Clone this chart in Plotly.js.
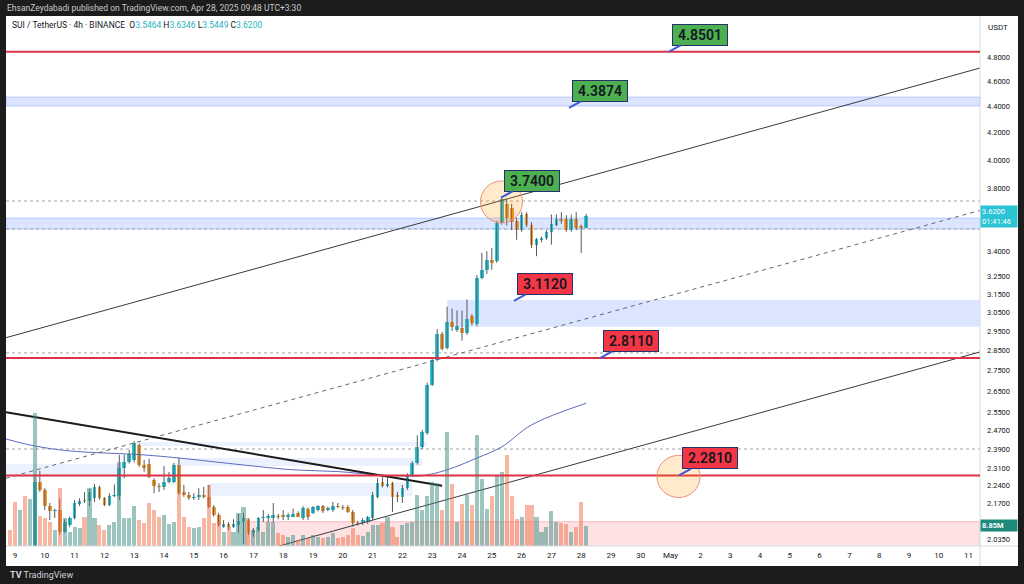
<!DOCTYPE html>
<html><head><meta charset="utf-8">
<script src="https://cdn.plot.ly/plotly-3.0.1.min.js"></script>
<style>html,body{margin:0;padding:0;background:#fff;}#chart{width:1024px;height:584px;}</style>
</head><body><div id="chart"></div>
<script>
// ---- data (SUI/USDT 4h, first candle 2025-04-08 20:00, 4h step) ----
const firstCandle = Date.UTC(2025, 3, 8, 20, 0);
const stepHours = 4;
const open = [1.95,1.90,1.83,1.88,1.85,1.90,2.255,2.223,2.16,2.14,
2.145,2.063,2.09,2.115,2.17,2.185,2.18,2.19,2.235,2.19,
2.165,2.20,2.20,2.313,2.335,2.345,2.41,2.324,2.33,2.263,
2.24,2.233,2.255,2.255,2.324,2.215,2.205,2.19,2.195,2.202,
2.195,2.157,2.126,2.082,2.093,2.082,2.09,2.10,2.107,2.06,
2.07,2.114,2.114,2.116,2.122,2.125,2.118,2.12,2.134,2.114,
2.148,2.134,2.145,2.16,2.145,2.145,2.16,2.158,2.157,2.138,
2.096,2.096,2.10,2.114,2.195,2.255,2.24,2.25,2.205,2.195,
2.23,2.283,2.333,2.398,2.46,2.68,2.80,2.935,2.86,2.997,
2.955,2.965,2.94,3.03,2.985,3.24,3.29,3.35,3.34,3.575,
3.70,3.67,3.59,3.53,3.63,3.56,3.44,3.47,3.48,3.52,
3.565,3.60,3.60,3.53,3.60,3.555,3.5464];
const high = [1.98,1.93,1.90,1.90,1.92,2.275,2.30,2.23,2.172,2.15,
2.19,2.11,2.12,2.184,2.19,2.215,2.227,2.247,2.24,2.195,
2.21,2.245,2.366,2.366,2.387,2.425,2.415,2.345,2.35,2.27,
2.25,2.32,2.295,2.333,2.355,2.243,2.215,2.21,2.23,2.235,
2.243,2.164,2.134,2.107,2.10,2.11,2.13,2.134,2.114,2.078,
2.118,2.145,2.13,2.172,2.13,2.145,2.134,2.15,2.14,2.16,
2.155,2.16,2.164,2.164,2.158,2.176,2.172,2.164,2.164,2.145,
2.104,2.114,2.122,2.215,2.27,2.275,2.275,2.255,2.215,2.243,
2.29,2.34,2.45,2.474,2.69,2.81,2.96,2.945,3.08,3.07,
3.06,3.06,3.12,3.04,3.259,3.39,3.40,3.42,3.59,3.74,
3.735,3.70,3.61,3.645,3.645,3.58,3.48,3.49,3.53,3.63,
3.63,3.645,3.625,3.63,3.645,3.565,3.6346];
const low = [1.88,1.80,1.78,1.82,1.83,1.88,2.215,2.145,2.107,2.115,
2.052,2.06,2.08,2.11,2.16,2.172,2.16,2.176,2.184,2.16,
2.16,2.195,2.184,2.27,2.33,2.335,2.316,2.296,2.27,2.21,
2.215,2.223,2.25,2.25,2.203,2.196,2.184,2.184,2.184,2.19,
2.152,2.12,2.082,2.078,2.07,2.078,2.06,2.02,2.052,2.045,
2.063,2.10,2.10,2.10,2.11,2.107,2.107,2.118,2.118,2.107,
2.107,2.13,2.14,2.134,2.14,2.138,2.152,2.145,2.134,2.082,
2.086,2.089,2.093,2.107,2.19,2.233,2.233,2.138,2.176,2.172,
2.223,2.275,2.325,2.39,2.452,2.675,2.795,2.85,2.855,2.95,
2.945,2.90,2.93,2.98,2.975,3.235,3.265,3.29,3.33,3.565,
3.56,3.53,3.47,3.52,3.55,3.42,3.37,3.455,3.47,3.44,
3.555,3.57,3.52,3.52,3.53,3.39,3.5449];
const close = [1.90,1.83,1.88,1.85,1.90,2.255,2.223,2.16,2.14,2.145,
2.063,2.10,2.115,2.172,2.18,2.178,2.215,2.235,2.19,2.165,
2.20,2.205,2.313,2.338,2.37,2.415,2.324,2.31,2.276,2.24,
2.233,2.255,2.27,2.324,2.211,2.203,2.19,2.196,2.202,2.195,
2.157,2.126,2.089,2.093,2.082,2.093,2.104,2.114,2.06,2.07,
2.114,2.118,2.122,2.125,2.118,2.118,2.126,2.128,2.12,2.152,
2.118,2.156,2.16,2.14,2.152,2.16,2.156,2.152,2.138,2.096,
2.093,2.107,2.118,2.203,2.25,2.24,2.247,2.195,2.195,2.23,
2.283,2.333,2.398,2.465,2.68,2.802,2.935,2.855,2.997,2.97,
2.975,2.94,3.016,2.99,3.243,3.29,3.35,3.33,3.575,3.73,
3.61,3.58,3.53,3.625,3.56,3.44,3.475,3.48,3.52,3.57,
3.60,3.585,3.53,3.60,3.545,3.545,3.62];
const volumeM = [7.0,19.4,15.8,22.0,20.7,58.5,13.2,12.3,10.6,7.0,
25.5,12.3,6.2,8.4,7.9,12.8,25.5,12.3,9.2,7.0,
9.2,10.6,37.0,12.3,12.3,17.6,11.4,10.1,18.9,15.8,
12.8,13.6,9.7,10.6,23.3,12.8,8.4,7.9,8.4,12.3,
26.8,10.1,10.6,6.2,8.4,6.2,14.5,17.2,12.3,7.0,
8.4,6.2,10.6,10.6,5.7,4.8,4.0,4.8,2.6,4.8,
3.5,4.8,4.0,3.5,4.0,5.7,3.5,4.0,4.8,7.9,
4.8,4.4,6.2,9.2,9.2,10.1,12.8,8.4,4.0,9.2,
10.1,10.6,22.4,15.8,22.0,28.2,27.7,15.8,50.2,27.3,
10.6,18.5,22.4,18.0,48.8,29.5,16.3,22.0,30.8,32.6,
40.0,22.0,11.9,12.8,18.0,18.0,12.8,6.2,8.4,15.4,
10.6,10.1,9.7,6.2,8.4,19.4,8.85];

// moving average
const maTimes = ['2025-04-08 16:45','2025-04-09 16:00','2025-04-10 20:00','2025-04-13 08:00','2025-04-14 12:00','2025-04-16 16:00','2025-04-18 08:00','2025-04-19 20:00','2025-04-21 04:00','2025-04-22 04:00','2025-04-22 16:00','2025-04-23 12:00','2025-04-24 12:00','2025-04-25 08:00','2025-04-26 08:00','2025-04-28 04:00'];
const maValues = [2.434,2.404,2.383,2.366,2.353,2.324,2.304,2.297,2.283,2.279,2.280,2.304,2.353,2.400,2.496,2.594];

// drawings
const upperChannelTimes = ['2025-04-08 16:45','2025-05-11 09:11'];
const upperChannelPrices = [2.915, 4.711];
const midDashedTimes = ['2025-04-08 16:45','2025-05-11 09:11'];
const midDashedPrices = [2.270, 3.656];
const lowerChannelTimes = ['2025-04-17 20:00','2025-05-11 09:11'];
const lowerChannelPrices = [2.011, 2.842];
const downTrendTimes = ['2025-04-08 16:45','2025-04-23 08:00'];
const downTrendPrices = [2.553, 2.240];
const redLevels = [4.8501, 2.811, 2.281];
const dottedLevels = [3.718, 3.537, 2.837, 2.391];
const calloutLabels = ['4.8501','4.3874','3.7400','3.1120','2.8110','2.2810'];
const calloutTimes = ['2025-04-30 22:48','2025-04-27 14:10','2025-04-25 07:25','2025-04-25 17:50','2025-04-28 15:10','2025-05-01 06:45'];
const calloutPrices = [4.8501, 4.3874, 3.74, 3.112, 2.811, 2.281];
const calloutColors = ['#4caf50','#4caf50','#4caf50','#f23645','#f23645','#f23645'];

// axis ticks
const priceTicks = [2.035,2.10,2.17,2.24,2.31,2.39,2.47,2.55,2.65,2.75,2.85,2.95,3.05,3.15,3.25,3.40,3.80,4.00,4.20,4.40,4.60,4.80];
const dayTicks = ['2025-04-09','2025-04-10','2025-04-11','2025-04-12','2025-04-13','2025-04-14','2025-04-15','2025-04-16','2025-04-17','2025-04-18','2025-04-19','2025-04-20','2025-04-21','2025-04-22','2025-04-23','2025-04-24','2025-04-25','2025-04-26','2025-04-27','2025-04-28','2025-04-29','2025-04-30','2025-05-01','2025-05-02','2025-05-03','2025-05-04','2025-05-05','2025-05-06','2025-05-07','2025-05-08','2025-05-09','2025-05-10','2025-05-11'];
const dayLabels = ['9','10','11','12','13','14','15','16','17','18','19','20','21','22','23','24','25','26','27','28','29','30','May','2','3','4','5','6','7','8','9','10','11'];

// ---- build ----
const fmt = ms => new Date(ms).toISOString().slice(0,16).replace('T',' ');
const times = open.map((_, i) => fmt(firstCandle + i * stepHours * 3600e3));
const up = open.map((o, i) => close[i] >= o);
const UPC = '#2cc3d5', DNC = '#f39a36';
const FONT = 'Roboto, "Liberation Sans", Arial, sans-serif';

const wickX = [], wickY = [];
times.forEach((t, i) => { wickX.push(t, t, null); wickY.push(low[i], high[i], null); });

const traces = [
  { type:'bar', x: times, y: volumeM, yaxis:'y2', width: 3.3*3600e3,
    marker:{color: up.map(u => u ? 'rgba(60,140,128,0.5)' : 'rgba(240,110,70,0.5)'), line:{width:0}},
    hoverinfo:'skip' },
  { type:'scatter', mode:'lines', x: maTimes, y: maValues, line:{color:'#5c6bc0', width:1, shape:'spline', smoothing:1}, hoverinfo:'skip' },
  { type:'scatter', mode:'lines', x: upperChannelTimes, y: upperChannelPrices, line:{color:'#3a3a3a', width:1}, hoverinfo:'skip' },
  { type:'scatter', mode:'lines', x: midDashedTimes, y: midDashedPrices, line:{color:'#666', width:1, dash:'4px,4px'}, hoverinfo:'skip' },
  { type:'scatter', mode:'lines', x: lowerChannelTimes, y: lowerChannelPrices, line:{color:'#3a3a3a', width:1}, hoverinfo:'skip' },
  { type:'scatter', mode:'lines', x: downTrendTimes, y: downTrendPrices, line:{color:'#1a1a1a', width:2}, hoverinfo:'skip' },
  { type:'scatter', mode:'lines', x: wickX, y: wickY, line:{color:'#555a5f', width:1}, connectgaps:false, hoverinfo:'skip' },
  { type:'bar', x: times, y: open.map((o,i) => Math.max(Math.abs(close[i]-o), 0.002)), base: open.map((o,i) => Math.min(o, close[i])),
    width: 3*3600e3, marker:{color: up.map(u => u ? UPC : DNC), line:{width:0}}, hoverinfo:'skip' }
];

// pixel helpers for paper coords (plot area x 6..980, y 16..546)
const px = v => (v - 6) / 974;
const py = v => (546 - v) / 530;

const shapes = [];
// dark frame
const DARK = '#1c1c1c';
shapes.push({type:'rect', xref:'paper', yref:'paper', x0:px(0), x1:px(1024), y0:py(0), y1:py(16), fillcolor:DARK, line:{width:0}, layer:'above'});
shapes.push({type:'rect', xref:'paper', yref:'paper', x0:px(0), x1:px(1024), y0:py(566), y1:py(584), fillcolor:DARK, line:{width:0}, layer:'above'});
shapes.push({type:'rect', xref:'paper', yref:'paper', x0:px(0), x1:px(6), y0:py(584), y1:py(0), fillcolor:DARK, line:{width:0}, layer:'above'});
shapes.push({type:'rect', xref:'paper', yref:'paper', x0:px(1018), x1:px(1024), y0:py(584), y1:py(0), fillcolor:DARK, line:{width:0}, layer:'above'});
// separators
shapes.push({type:'line', xref:'paper', yref:'paper', x0:1, x1:1, y0:py(566), y1:py(16), line:{color:'#d9dbe0', width:1}});
shapes.push({type:'line', xref:'paper', yref:'paper', x0:0, x1:px(1018), y0:0, y1:0, line:{color:'#d9dbe0', width:1}});

// zones
const BLUE = 'rgba(41,98,255,0.17)', BLUE_L = 'rgba(41,98,255,0.09)', BLUE_LINE = 'rgba(41,98,255,0.25)';
shapes.push({type:'rect', xref:'paper', yref:'y', x0:0, x1:1, y0:4.403, y1:4.474, fillcolor:BLUE, line:{color:BLUE_LINE, width:1}, layer:'below'});
shapes.push({type:'rect', xref:'paper', yref:'y', x0:0, x1:1, y0:3.537, y1:3.607, fillcolor:BLUE, line:{color:BLUE_LINE, width:1}, layer:'below'});
shapes.push({type:'rect', xref:'x', yref:'y', x0:'2025-04-23 12:00', x1:'2025-05-11 09:11', y0:2.973, y1:3.117, fillcolor:BLUE, line:{width:0}, layer:'below'});
shapes.push({type:'rect', xref:'x', yref:'y', x0:'2025-04-08 16:45', x1:'2025-04-12 16:00', y0:2.275, y1:2.328, fillcolor:BLUE_L, line:{width:0}, layer:'below'});
shapes.push({type:'rect', xref:'x', yref:'y', x0:'2025-04-13 04:00', x1:'2025-04-22 20:00', y0:2.404, y1:2.421, fillcolor:BLUE_L, line:{width:0}, layer:'below'});
shapes.push({type:'rect', xref:'x', yref:'y', x0:'2025-04-14 12:00', x1:'2025-04-22 16:00', y0:2.320, y1:2.353, fillcolor:BLUE_L, line:{width:0}, layer:'below'});
shapes.push({type:'rect', xref:'x', yref:'y', x0:'2025-04-15 12:00', x1:'2025-04-22 08:00', y0:2.199, y1:2.251, fillcolor:BLUE_L, line:{width:0}, layer:'below'});
shapes.push({type:'rect', xref:'x', yref:'y', x0:'2025-04-16 18:00', x1:'2025-05-11 09:11', y0:1.95, y1:2.101, fillcolor:'rgba(242,54,69,0.15)', line:{color:'rgba(242,54,69,0.3)', width:1}, layer:'below'});
dottedLevels.forEach(v => shapes.push({type:'line', xref:'paper', yref:'y', x0:0, x1:1, y0:v, y1:v, line:{color:'#a0a3a8', width:1, dash:'dot'}, layer:'below'}));
redLevels.forEach(v => shapes.push({type:'line', xref:'paper', yref:'y', x0:0, x1:1, y0:v, y1:v, line:{color:'#dd3344', width:2}, layer:'above'}));
// circles
shapes.push({type:'circle', xref:'x', yref:'y', x0:'2025-04-24 14:53', x1:'2025-04-26 00:43', y0:3.576, y1:3.853, fillcolor:'rgba(255,152,0,0.2)', line:{color:'#ef8f7a', width:1}, layer:'above'});
shapes.push({type:'circle', xref:'x', yref:'y', x0:'2025-04-30 13:00', x1:'2025-05-01 23:45', y0:2.193, y1:2.364, fillcolor:'rgba(255,152,0,0.2)', line:{color:'#ef8f7a', width:1}, layer:'above'});

const annotations = [];
annotations.push({xref:'paper', yref:'paper', x:px(5), y:py(8), xanchor:'left', yanchor:'middle', showarrow:false,
  text:'EhsanZeydabadi published on TradingView.com, Apr 28, 2025 09:48 UTC+3:30', font:{family:FONT, size:8.5, color:'#c9c9c9'}});
const tv = v => '<span style="color:#26b3be">' + v + '</span>';
annotations.push({xref:'paper', yref:'paper', x:px(10), y:py(25), xanchor:'left', yanchor:'middle', showarrow:false,
  text:'SUI / TetherUS · 4h · BINANCE  O' + tv('3.5464') + ' H' + tv('3.6346') + ' L' + tv('3.5449') + ' C' + tv('3.6200'),
  font:{family:FONT, size:8.5, color:'#131722'}});
annotations.push({xref:'paper', yref:'paper', x:px(998), y:py(28), xanchor:'center', yanchor:'middle', showarrow:false,
  text:'USDT', font:{family:FONT, size:8, color:'#131722'}});
annotations.push({xref:'paper', yref:'paper', x:px(8), y:py(575), xanchor:'left', yanchor:'middle', showarrow:false,
  text:'<b>TV</b> TradingView', font:{family:FONT, size:9, color:'#d1d4dc'}});
// last price label
annotations.push({xref:'paper', yref:'y', x:1, y:Math.log10(3.62), xanchor:'left', yanchor:'middle', showarrow:false,
  text:'3.6200<br>01:41:46', bgcolor:'#2cc3d5', width:34, borderpad:1, align:'left', font:{family:FONT, size:7.5, color:'#ffffff'}});
annotations.push({xref:'paper', yref:'y2', x:1, y:8.85, xanchor:'left', yanchor:'middle', showarrow:false,
  text:'<b>8.85M</b>', bgcolor:'#1e8a7c', width:34, borderpad:1, align:'left', font:{family:FONT, size:7.5, color:'#ffffff'}});
// callouts
calloutLabels.forEach((lab, i) => annotations.push({
  xref:'x', yref:'y', x: calloutTimes[i], y: Math.log10(calloutPrices[i]),
  text: lab, showarrow:true, arrowhead:0, arrowwidth:2, arrowcolor:'#3d5bd9',
  ax: 31, ay: -17, bgcolor: calloutColors[i], bordercolor:'#26306b', borderwidth:1, borderpad:1,
  width:52, height:18, font:{family:FONT, size:14, color:'#131722', weight:600}
}));

const layout = {
  width:1024, height:584,
  margin:{l:6, r:44, t:16, b:38, pad:0},
  paper_bgcolor:'#ffffff', plot_bgcolor:'#ffffff',
  showlegend:false, barmode:'overlay', bargap:0,
  xaxis:{type:'date', range:['2025-04-08 16:45','2025-05-11 09:11'], tickvals:dayTicks, ticktext:dayLabels,
    showgrid:false, zeroline:false, showline:false, ticks:'', ticklabelstandoff:3,
    tickfont:{family:FONT, size:8, color:'#131722'}, fixedrange:true},
  yaxis:{type:'log', range:[0.303611, 0.713323], side:'right', tickvals:priceTicks, ticktext:priceTicks.map(v => v.toFixed(4)),
    showgrid:false, zeroline:false, showline:false, ticks:'', ticklabelstandoff:6,
    tickfont:{family:FONT, size:7.5, color:'#131722'}, fixedrange:true},
  yaxis2:{overlaying:'y', range:[0, 233], visible:false, fixedrange:true},
  shapes, annotations
};
Plotly.newPlot('chart', traces, layout, {displayModeBar:false, staticPlot:true});
</script>
</body></html>
